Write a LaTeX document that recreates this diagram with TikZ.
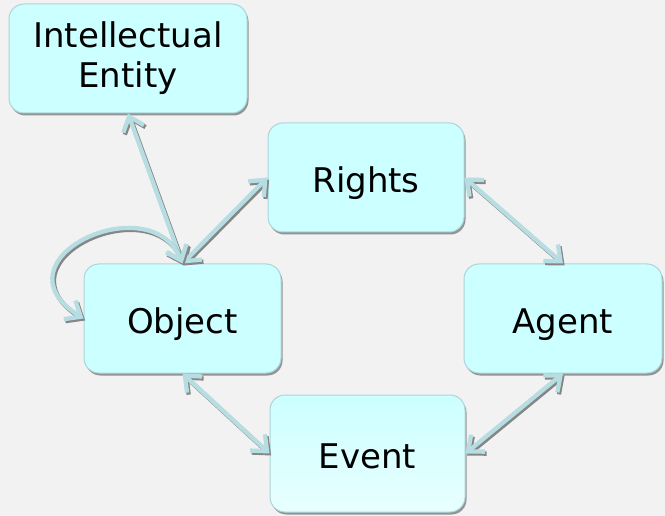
\documentclass[tikz,border=0pt]{standalone}
\usepackage{fontspec}
\setmainfont{DejaVu Sans}
\usetikzlibrary{arrows.meta,shadows}

\definecolor{boxfill}{HTML}{CCFFFF}
\definecolor{boxline}{HTML}{ABD5D9}
\definecolor{linkcol}{HTML}{B6DDE1}
\definecolor{bgcol}{HTML}{F2F2F2}

\tikzset{
  entity/.style={draw=boxline, fill=boxfill, line width=1pt, rounded corners=15pt,
    minimum width=#1, minimum height=109pt, inner sep=0pt, align=center,
    font=\fontsize{34}{40}\selectfont,
    drop shadow={shadow xshift=1.5pt, shadow yshift=-2.5pt, fill=gray!85, opacity=1}},
  oneline/.style={text height=30pt, text depth=0pt},
  link/.style={{Straight Barb[length=13pt, width=22pt]}-{Straight Barb[length=13pt, width=22pt]},
    draw=linkcol, line width=4.3pt},
  linkshadow/.style={link, draw=gray!95, transform canvas={shift={(1.6pt,-2pt)}}}
}

\begin{document}
\begin{tikzpicture}[x=1pt, y=-1pt]
  \fill[bgcol] (0,0) rectangle (665,516);
  \useasboundingbox (0,0) rectangle (665,516);

  % the five boxes
  \node[entity=238pt] (ie) at (128,58.5) {Intellectual\\Entity};
  \node[entity=196pt, oneline] (rights) at (366,177.5) {Rights};
  \node[entity=197pt, oneline] (object) at (182.5,318.5) {Object};
  \node[entity=198pt, oneline] (agent) at (563,318.5) {Agent};
  \node[entity=195pt, oneline, minimum height=117pt, top color=boxfill, bottom color=boxfill!45!white] (event) at (367.5,453.5) {Event};

  % links, each with its grey shadow first
  \foreach \from/\to in {object.north/ie.south, object.north/rights.west,
      rights.east/agent.north, agent.south/event.east, object.south/event.west} {
    \draw[linkshadow] (\from) -- (\to);
    \draw[link] (\from) -- (\to);
  }
  \draw[linkshadow] (object.north) .. controls (150,185) and (-10,260) .. (object.west);
  \draw[link] (object.north) .. controls (150,185) and (-10,260) .. (object.west);
\end{tikzpicture}
\end{document}
